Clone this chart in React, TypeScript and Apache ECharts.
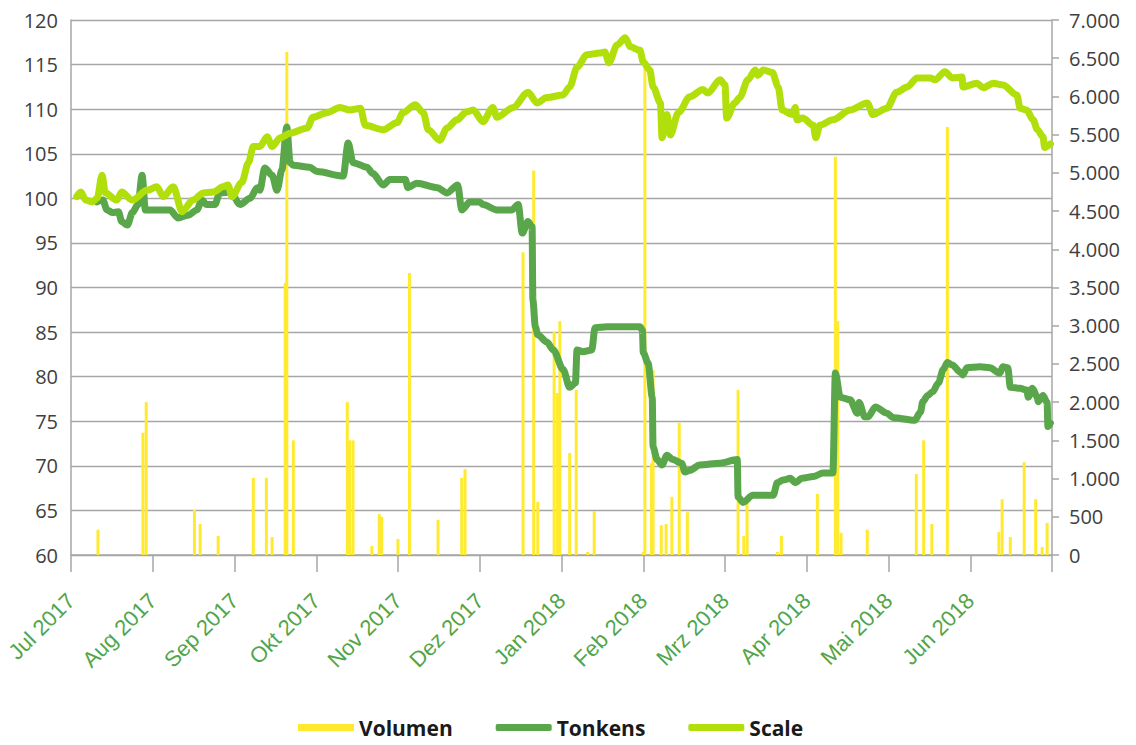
import React, { useEffect, useRef } from "react";
import * as echarts from "echarts";

// x positions are expressed in months since 1 Jul 2017 (0 = Jul 2017, 12 = Jul 2018)
const monthLabels = [
  "Jul 2017", "Aug 2017", "Sep 2017", "Okt 2017", "Nov 2017", "Dez 2017",
  "Jan 2018", "Feb 2018", "Mrz 2018", "Apr 2018", "Mai 2018", "Jun 2018",
];

const scaleSeries: [number, number][] = [
  [0.07, 100.2], [0.12, 100.7], [0.18, 99.8], [0.26, 99.6], [0.32, 100.0], [0.38, 102.6], [0.42, 100.6], [0.56, 99.8], [0.62, 100.7], [0.75, 99.8],
  [0.93, 100.9], [1.05, 101.3], [1.13, 100.2], [1.25, 101.3], [1.36, 98.5], [1.49, 99.8], [1.62, 100.6], [1.74, 100.7], [1.86, 101.3], [1.92, 101.5],
  [1.97, 100.2], [2.09, 101.8], [2.17, 104.0], [2.23, 105.8], [2.31, 105.8], [2.40, 106.9], [2.46, 105.8], [2.56, 106.8], [2.68, 107.3], [2.89, 107.9],
  [2.96, 109.1], [3.13, 109.6], [3.29, 110.2], [3.41, 109.9], [3.54, 110.1], [3.60, 108.2], [3.82, 107.7], [3.99, 108.5], [4.06, 109.6], [4.21, 110.5],
  [4.31, 109.6], [4.37, 107.7], [4.51, 106.5], [4.60, 107.9], [4.72, 108.8], [4.84, 109.7], [4.92, 109.9], [5.04, 108.6], [5.16, 110.2], [5.21, 109.1],
  [5.41, 110.2], [5.59, 111.9], [5.70, 110.7], [5.82, 111.3], [6.02, 111.6], [6.10, 112.5], [6.19, 114.7], [6.31, 116.1], [6.47, 116.3], [6.53, 116.4],
  [6.58, 115.2], [6.68, 117.2], [6.78, 118.0], [6.84, 117.0], [6.96, 116.6], [7.00, 115.3], [7.08, 114.4], [7.12, 112.5], [7.21, 110.7], [7.23, 106.8],
  [7.29, 109.4], [7.33, 107.1], [7.43, 109.6], [7.57, 111.4], [7.73, 112.2], [7.79, 111.8], [7.94, 113.3], [8.00, 112.7], [8.02, 109.0], [8.12, 110.7],
  [8.18, 111.3], [8.28, 113.3], [8.37, 114.4], [8.40, 113.8], [8.47, 114.4], [8.58, 114.1], [8.65, 112.5], [8.70, 109.9], [8.82, 109.4], [8.86, 110.2],
  [8.88, 108.8], [8.95, 109.0], [9.08, 108.2], [9.11, 106.8], [9.16, 108.2], [9.32, 108.8], [9.53, 109.9], [9.74, 110.7], [9.81, 109.4], [9.98, 110.1],
  [10.10, 111.9], [10.23, 112.5], [10.35, 113.5], [10.51, 113.5], [10.57, 113.3], [10.69, 114.2], [10.78, 113.5], [10.90, 113.6], [10.91, 112.5], [11.08, 112.9],
  [11.16, 112.4], [11.28, 112.9], [11.40, 112.7], [11.57, 111.6], [11.61, 110.1], [11.69, 109.9], [11.77, 108.8], [11.82, 107.7], [11.89, 106.9], [11.91, 105.7],
  [11.98, 106.1],
];

const tonkensSeries: [number, number][] = [
  [0.32, 99.6], [0.39, 99.8], [0.44, 98.7], [0.51, 98.4], [0.58, 98.5], [0.62, 97.4], [0.69, 97.0], [0.75, 98.4], [0.82, 99.3], [0.87, 102.6],
  [0.91, 98.7], [1.05, 98.7], [1.21, 98.7], [1.31, 97.8], [1.43, 98.1], [1.54, 98.7], [1.60, 99.8], [1.66, 99.3], [1.76, 99.3], [1.82, 100.6],
  [1.95, 100.7], [2.07, 99.3], [2.19, 100.0], [2.28, 101.2], [2.31, 100.9], [2.37, 103.4], [2.46, 102.6], [2.52, 100.9], [2.58, 103.2], [2.64, 108.0],
  [2.68, 104.0], [2.72, 103.7], [2.92, 103.5], [3.01, 103.0], [3.33, 102.5], [3.39, 106.2], [3.45, 104.0], [3.62, 103.5], [3.69, 102.8], [3.82, 101.5],
  [3.90, 102.1], [4.09, 102.1], [4.12, 101.2], [4.23, 101.7], [4.48, 101.2], [4.60, 100.6], [4.73, 101.5], [4.78, 98.7], [4.88, 99.6], [5.00, 99.6],
  [5.04, 99.3], [5.21, 98.7], [5.39, 98.7], [5.47, 99.3], [5.52, 96.1], [5.59, 97.4], [5.64, 96.8], [5.65, 88.6], [5.68, 85.6], [5.71, 84.7],
  [5.82, 83.9], [5.90, 83.0], [6.02, 80.8], [6.10, 78.8], [6.17, 79.3], [6.19, 83.0], [6.26, 82.8], [6.37, 83.0], [6.41, 85.5], [6.56, 85.6],
  [6.96, 85.6], [6.99, 85.2], [7.00, 82.7], [7.06, 81.5], [7.11, 77.7], [7.12, 72.1], [7.17, 70.7], [7.23, 70.1], [7.29, 71.2], [7.36, 70.7],
  [7.47, 70.3], [7.51, 69.3], [7.57, 69.5], [7.69, 70.1], [7.94, 70.3], [8.15, 70.7], [8.16, 66.5], [8.22, 65.9], [8.34, 66.7], [8.59, 66.7],
  [8.64, 68.1], [8.71, 68.4], [8.80, 68.6], [8.86, 68.1], [8.94, 68.6], [9.08, 68.8], [9.20, 69.2], [9.32, 69.2], [9.35, 80.4], [9.41, 77.7],
  [9.53, 77.4], [9.62, 75.9], [9.64, 77.1], [9.71, 75.5], [9.75, 75.5], [9.84, 76.6], [9.98, 75.9], [10.06, 75.4], [10.32, 75.1], [10.39, 76.0],
  [10.42, 77.2], [10.48, 77.9], [10.54, 78.3], [10.61, 79.3], [10.67, 80.8], [10.72, 81.6], [10.78, 81.3], [10.88, 80.5], [10.91, 80.2], [10.96, 81.0],
  [11.12, 81.1], [11.24, 81.0], [11.36, 80.4], [11.40, 81.1], [11.46, 81.0], [11.49, 78.8], [11.61, 78.7], [11.69, 78.5], [11.71, 77.7], [11.76, 78.7],
  [11.82, 77.7], [11.83, 77.2], [11.89, 77.9], [11.94, 77.1], [11.95, 74.4], [11.98, 74.8],
];

const volumeSeries: [number, number][] = [
  [0.33, 330], [0.88, 1600], [0.92, 2000], [1.51, 590], [1.58, 405], [1.80, 250], [2.23, 1010], [2.39, 1010], [2.46, 235], [2.62, 3560],
  [2.64, 6580], [2.72, 1500], [3.38, 2000], [3.41, 1500], [3.45, 1500], [3.68, 120], [3.77, 535], [3.80, 500], [4.00, 210], [4.14, 3690],
  [4.49, 460], [4.78, 1010], [4.82, 1125], [5.53, 3960], [5.66, 5030], [5.71, 695], [5.91, 2920], [5.95, 2120], [5.98, 3060], [6.10, 1335],
  [6.18, 2160], [6.32, 40], [6.40, 575], [7.00, 40], [7.02, 6410], [7.10, 1200], [7.12, 2420], [7.22, 390], [7.28, 405], [7.35, 760],
  [7.44, 1730], [7.54, 560], [8.16, 2160], [8.23, 250], [8.27, 720], [8.64, 40], [8.69, 250], [9.13, 800], [9.35, 5210], [9.38, 3060],
  [9.42, 290], [9.74, 330], [10.34, 1060], [10.43, 1500], [10.53, 405], [10.72, 5600], [11.35, 300], [11.39, 730], [11.49, 235], [11.66, 1215],
  [11.80, 730], [11.88, 105], [11.94, 420],
];

const fmtThousands = (v: number) =>
  v >= 1000 ? `${Math.floor(v / 1000)}.${String(v % 1000).padStart(3, "0")}` : String(v);

export default function App() {
  const ref = useRef<HTMLDivElement>(null);
  useEffect(() => {
    const chart = echarts.init(ref.current!, undefined, { renderer: "svg" });
    const grey = "#a6a6a6";
    chart.setOption({
      animation: false,
      backgroundColor: "#ffffff",
      grid: { left: 71, right: 84, top: 20, bottom: 190 },
      legend: {
        left: 293,
        top: 712,
        itemWidth: 56,
        itemHeight: 7,
        itemGap: 43,
        textStyle: {
          fontFamily: "Open Sans",
          fontWeight: "bold",
          fontSize: 21,
          color: "#1a1a1a",
        },
        data: [
          { name: "Volumen", icon: "rect" },
          { name: "Tonkens", icon: "roundRect" },
          { name: "Scale", icon: "roundRect" },
        ],
      },
      xAxis: {
        type: "value",
        min: 0,
        max: 12,
        interval: 1,
        axisLine: { show: true, lineStyle: { color: grey, width: 1.5 } },
        axisTick: { show: true, length: 17, lineStyle: { color: grey, width: 1.5 } },
        splitLine: { show: false },
        axisLabel: {
          rotate: 45,
          margin: 42,
          showMinLabel: true,
          showMaxLabel: true,
          color: "#52a548",
          fontSize: 22,
          fontFamily: "Liberation Sans",
          formatter: (v: number) => monthLabels[Math.round(v)] ?? "",
        },
      },
      yAxis: [
        {
          type: "value",
          min: 60,
          max: 120,
          interval: 5,
          position: "left",
          axisLine: { show: true, lineStyle: { color: grey, width: 1.5 } },
          axisTick: { show: false },
          splitLine: { show: true, lineStyle: { color: grey, width: 1.3 } },
          axisLabel: { color: "#404040", fontSize: 20, fontFamily: "Open Sans", margin: 13 },
        },
        {
          type: "value",
          min: 0,
          max: 7000,
          interval: 500,
          position: "right",
          axisLine: { show: true, lineStyle: { color: grey, width: 1.5 } },
          axisTick: { show: true, length: 7, lineStyle: { color: grey, width: 1.5 } },
          splitLine: { show: false },
          axisLabel: {
            color: "#404040",
            fontSize: 20,
            fontFamily: "Open Sans",
            margin: 17,
            formatter: (v: number) => fmtThousands(v),
          },
        },
      ],
      series: [
        {
          name: "Volumen",
          type: "bar",
          yAxisIndex: 1,
          data: volumeSeries,
          barWidth: 3,
          itemStyle: { color: "#ffea2e" },
        },
        {
          name: "Tonkens",
          type: "line",
          yAxisIndex: 0,
          data: tonkensSeries,
          showSymbol: false,
          smooth: 0.3,
          smoothMonotone: "x",
          lineStyle: { width: 7, color: "#5aa64b", cap: "round", join: "round" },
          itemStyle: { color: "#5aa64b" },
        },
        {
          name: "Scale",
          type: "line",
          yAxisIndex: 0,
          data: scaleSeries,
          showSymbol: false,
          smooth: 0.3,
          smoothMonotone: "x",
          lineStyle: { width: 7, color: "#b0df0c", cap: "round", join: "round" },
          itemStyle: { color: "#b0df0c" },
        },
      ],
    });
    return () => chart.dispose();
  }, []);
  return (
    <div
      ref={ref}
      style={{ position: "absolute", left: 0, top: 0, width: 1136, height: 745, background: "#fff" }}
    />
  );
}
